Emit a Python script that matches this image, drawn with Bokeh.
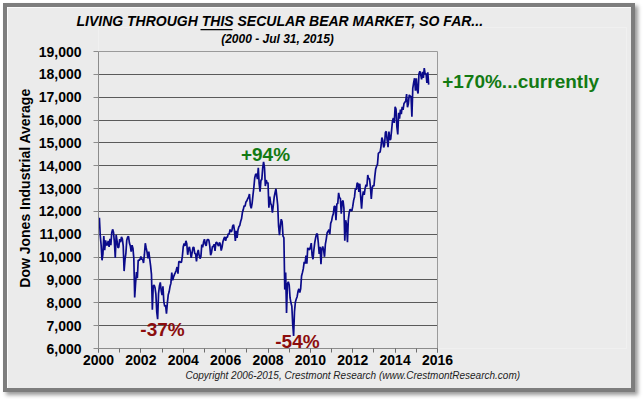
import numpy as np
from bokeh.plotting import figure
from bokeh.models import Label, BoxAnnotation, FixedTicker, NumeralTickFormatter, Range1d, Grid, Title
from bokeh.embed import file_html
from bokeh.resources import INLINE

# Dow Jones Industrial Average, two readings per month (mid-month, month-end)
dji_2000 = [11723, 10941, 10519, 9862, 10131, 10922, 10305, 10734, 10535, 10522, 10714, 10448,
            10804, 10522, 11067, 11215, 11087, 10651, 9975, 10971, 10708, 10415, 10434, 10788]
dji_2001 = [10652, 10887, 10795, 10495, 9389, 9879, 10158, 10735, 10873, 10912, 10623, 10502,
            10240, 10523, 10392, 9950, 8236, 8848, 9345, 9075, 9872, 9852, 9900, 10022]
dji_2002 = [9892, 9920, 9744, 10106, 10607, 10404, 10220, 9946, 10243, 9925, 9631, 9243,
            7702, 8737, 8778, 8664, 8380, 7592, 7286, 8397, 8733, 8896, 8538, 8342]
dji_2003 = [8723, 8054, 7843, 7891, 7524, 7992, 8351, 8480, 8713, 8850, 9323, 8985,
            9128, 9234, 9321, 9416, 9567, 9275, 9803, 9801, 9768, 9782, 10042, 10454]
dji_2004 = [10600, 10488, 10715, 10584, 10102, 10358, 10452, 10226, 9968, 10188, 10416, 10435,
            10163, 10140, 9815, 10174, 10315, 10080, 9933, 10027, 10550, 10428, 10661, 10783]
dji_2005 = [10558, 10490, 10754, 10766, 10745, 10504, 10087, 10193, 10464, 10467, 10566, 10275,
            10640, 10641, 10559, 10482, 10641, 10569, 10287, 10440, 10686, 10806, 10883, 10718]
dji_2006 = [10880, 10865, 11028, 10993, 11209, 11109, 11137, 11367, 11420, 11168, 10706, 11150,
            10846, 11186, 11328, 11381, 11560, 11679, 11950, 12081, 12251, 12222, 12416, 12463]
dji_2007 = [12556, 12622, 12765, 12269, 12133, 12354, 12720, 13063, 13476, 13628, 13639, 13409,
            13907, 13212, 12861, 13358, 13403, 13896, 14165, 13930, 13110, 13372, 13232, 13265]
dji_2008 = [12159, 12650, 12348, 12266, 11951, 12263, 12620, 12820, 12992, 12638, 12269, 11350,
            10963, 11378, 11659, 11544, 10918, 10851, 8578, 9325, 7552, 8829, 8924, 8776]
dji_2009 = [8212, 8001, 7850, 7063, 6547, 7609, 8029, 8168, 8268, 8500, 8612, 8447,
            8616, 9172, 9321, 9496, 9791, 9712, 10063, 9713, 10406, 10345, 10328, 10428]
dji_2010 = [10610, 10067, 9908, 10325, 10642, 10857, 11019, 11009, 10620, 10137, 10450, 9686,
            10360, 10466, 10303, 10015, 10572, 10788, 11062, 11118, 11201, 11006, 11476, 11578]
dji_2011 = [11787, 11892, 12226, 12226, 11613, 12320, 12342, 12811, 12595, 12570, 11897, 12414,
            12479, 12143, 10719, 11614, 11433, 10655, 11644, 11955, 12096, 12046, 12021, 12218]
dji_2012 = [12482, 12633, 13009, 12952, 13253, 13212, 12850, 13214, 12632, 12118, 12651, 12880,
            12727, 13009, 13165, 13091, 13593, 13437, 13424, 13096, 12543, 13026, 13135, 13104]
dji_2013 = [13534, 13861, 13981, 14054, 14539, 14579, 14599, 14840, 15233, 15116, 14799, 14910,
            15464, 15500, 15112, 14810, 15494, 15130, 15168, 15546, 15962, 16086, 15875, 16577]
dji_2014 = [16481, 15699, 15373, 16322, 16065, 16458, 16262, 16581, 16447, 16717, 16781, 16827,
            17139, 16563, 16713, 17098, 17031, 17043, 16142, 17391, 17634, 17828, 17280, 17823]
dji_2015 = [17321, 17165, 18019, 18133, 17977, 17776, 18106, 17841, 18272, 18011, 18039, 17620,
            18086, 17550]

series_by_year = [(2000, dji_2000), (2001, dji_2001), (2002, dji_2002), (2003, dji_2003),
                  (2004, dji_2004), (2005, dji_2005), (2006, dji_2006), (2007, dji_2007),
                  (2008, dji_2008), (2009, dji_2009), (2010, dji_2010), (2011, dji_2011),
                  (2012, dji_2012), (2013, dji_2013), (2014, dji_2014), (2015, dji_2015)]

y_ticks = list(range(6000, 19001, 1000))
x_ticks = list(range(2000, 2017, 2))
x_minor = list(range(2000, 2017, 1))

title_txt = "LIVING THROUGH THIS SECULAR BEAR MARKET, SO FAR..."
subtitle = "(2000 - Jul 31, 2015)"
copyright_txt = "Copyright 2006-2015, Crestmont Research (www.CrestmontResearch.com)"
y_label = "Dow Jones Industrial Average"

# annotations: (text, year, value, color)
notes = [("-37%", 2003.02, 6850, "#8c0d0d"),
         ("+94%", 2007.88, 14510, "#137a13"),
         ("-54%", 2009.39, 6290, "#8c0d0d")]
current_note = ("+170%...currently", 2016.22, 17680, "#137a13")

xs, ys = [], []
for yr, vals in series_by_year:
    for i, v in enumerate(vals):
        month = i // 2 + 1
        frac = (month - 1) / 12 + (0.5 / 12 if i % 2 == 0 else 1.0 / 12)
        xs.append(yr + frac)
        ys.append(v)

# ---- geometry (pixels) ----
X0, X1 = x_ticks[0], x_ticks[-1]
Y0, Y1 = y_ticks[0], y_ticks[-1]
PLOT_W, PLOT_H = 339, 297          # pixel size of the 2000-2016 x 6000-19000 box
FRAME_W, FRAME_H = 528, 321        # frame extended right/up to hold the notes & subtitle
px_per_x = PLOT_W / (X1 - X0)
px_per_y = PLOT_H / (Y1 - Y0)
x_end = X0 + FRAME_W / px_per_x
y_end = Y0 + FRAME_H / px_per_y

BG = "#EBEBEB"
p = figure(frame_width=FRAME_W, frame_height=FRAME_H,
           min_border_left=91, min_border_right=5, min_border_top=20, min_border_bottom=40,
           x_range=Range1d(X0, x_end), y_range=Range1d(Y0, y_end),
           output_backend="svg", toolbar_location=None)
p.styles = {"border": "4px solid #7d7d7d", "box-shadow": "3px 3px 4px #9a9a9a",
            "margin-left": "3px", "margin-top": "3px"}
p.background_fill_color = BG
p.border_fill_color = BG
p.outline_line_color = None

p.xgrid.visible = False
p.ygrid.ticker = FixedTicker(ticks=y_ticks[1:-1])
p.ygrid.grid_line_color = "#5a5a5a"
p.ygrid.grid_line_width = 1
p.ygrid.cross_bounds = (X0, X1)

top_edge = Grid(dimension=1, ticker=FixedTicker(ticks=[Y1]), grid_line_color="#9a9a9a",
                cross_bounds=(X0, X1))
right_edge = Grid(dimension=0, ticker=FixedTicker(ticks=[X1]), grid_line_color="#9a9a9a",
                  cross_bounds=(Y0, Y1))
p.add_layout(top_edge)
p.add_layout(right_edge)

p.line(xs, ys, line_color="#0b0b8a", line_width=1.7)

FONT = "Liberation Sans"
p.yaxis.bounds = (Y0, Y1)
p.yaxis.ticker = FixedTicker(ticks=y_ticks)
p.yaxis.formatter = NumeralTickFormatter(format="0,0")
p.yaxis.major_label_text_font = FONT
p.yaxis.major_label_text_font_size = "14px"
p.yaxis.major_label_text_font_style = "bold"
p.yaxis.major_label_text_color = "black"
p.yaxis.major_tick_out = 5
p.yaxis.major_tick_in = 0
p.yaxis.minor_tick_out = 0
p.yaxis.minor_tick_in = 0
p.yaxis.major_label_standoff = 12
p.yaxis.axis_line_color = "#8c8c8c"
p.yaxis.major_tick_line_color = "#8c8c8c"

p.add_layout(Title(text=y_label, align="center", offset=-14, standoff=6,
                   text_font=FONT, text_font_size="14px", text_font_style="bold",
                   text_color="black"), "left")

p.xaxis.bounds = (X0, X1)
p.xaxis.ticker = FixedTicker(ticks=x_ticks, minor_ticks=x_minor)
p.xaxis.major_label_text_font = FONT
p.xaxis.major_label_text_font_size = "14px"
p.xaxis.major_label_text_font_style = "bold"
p.xaxis.major_label_text_color = "black"
p.xaxis.major_tick_out = 4
p.xaxis.major_tick_in = 0
p.xaxis.minor_tick_out = 4
p.xaxis.minor_tick_in = 0
p.xaxis.major_label_standoff = 2
p.xaxis.axis_line_color = "#8c8c8c"
p.xaxis.major_tick_line_color = "#6c6c6c"
p.xaxis.minor_tick_line_color = "#6c6c6c"

for txt, xv, yv, col in notes:
    p.add_layout(Label(x=xv, y=yv, text=txt, text_align="center", text_baseline="alphabetic",
                       text_font=FONT, text_font_size="19px", text_font_style="bold",
                       text_color=col))
txt, xv, yv, col = current_note
p.add_layout(Label(x=xv, y=yv, text=txt, text_align="left", text_baseline="alphabetic",
                   text_font=FONT, text_font_size="19px", text_font_style="bold",
                   text_color=col))

# main title in the panel above the frame
p.add_layout(Title(text=title_txt, align="left", offset=-22, standoff=-2,
                   text_font=FONT, text_font_size="14px", text_font_style="bold italic",
                   text_color="black"), "above")
# underline under "THIS" (screen units, relative to frame)
p.add_layout(BoxAnnotation(left=102, right=134, top=319.6, bottom=318.2,
                           left_units="screen", right_units="screen",
                           top_units="screen", bottom_units="screen",
                           fill_color="black", fill_alpha=1, line_color=None))
p.add_layout(Label(x=179, y=310, text=subtitle, text_align="center", x_units="screen",
                   y_units="screen", text_baseline="alphabetic", text_font=FONT,
                   text_font_size="12px", text_font_style="bold italic", text_color="black"))

p.add_layout(Title(text=copyright_txt, align="left", offset=87, standoff=1,
                   text_font=FONT, text_font_size="10px", text_font_style="italic",
                   text_color="#222222"), "below")

open("out.html", "w").write(file_html(p, INLINE))
